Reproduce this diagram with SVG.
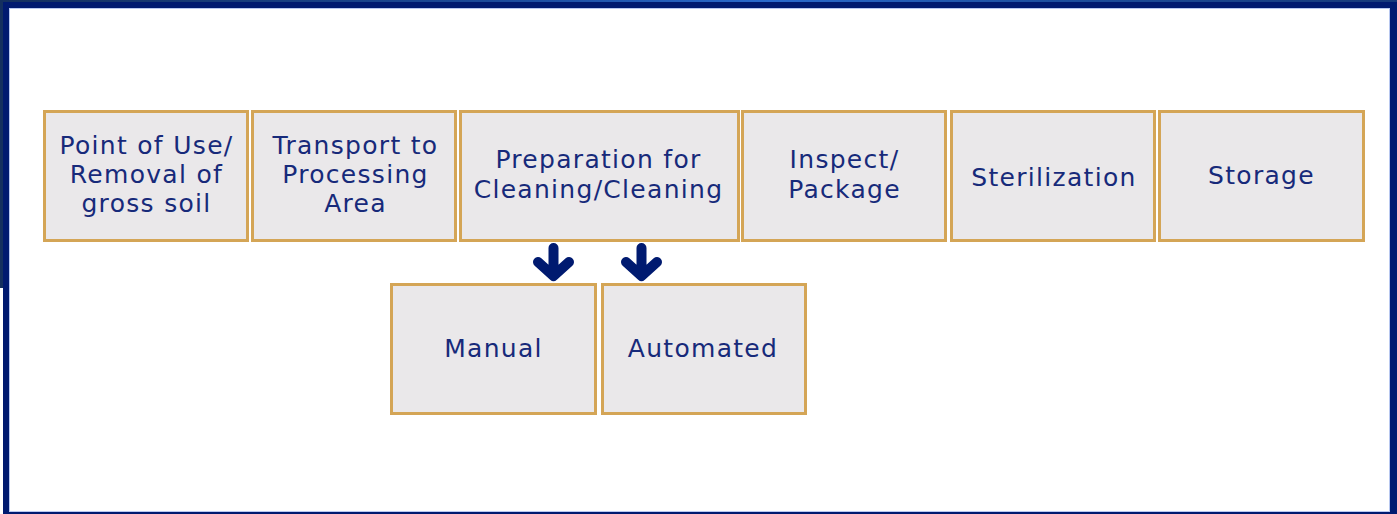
<svg xmlns="http://www.w3.org/2000/svg" width="1397" height="514" viewBox="0 0 1397 514">
  <defs>
    <linearGradient id="bgGrad" x1="0" y1="0" x2="1" y2="0">
      <stop offset="0" stop-color="#14305f"/>
      <stop offset="0.35" stop-color="#1b4a9a"/>
      <stop offset="0.55" stop-color="#2a6acc"/>
      <stop offset="0.75" stop-color="#1d4f9f"/>
      <stop offset="1" stop-color="#16397a"/>
    </linearGradient>
    <style>
      .box { fill: #eae8ea; stroke: #d4a556; stroke-width: 3; }
      .label { font-family: "DejaVu Sans", Verdana, sans-serif; font-size: 25px; letter-spacing: 1.3px; fill: #172a7a; text-anchor: middle; }
      .arrow { fill: none; stroke: #001a70; stroke-width: 10; stroke-linecap: round; stroke-linejoin: round; }
    </style>
  </defs>

  <!-- backdrop and frame -->
  <rect x="0" y="0" width="1397" height="514" fill="#ffffff"/>
  <rect x="0" y="0" width="1397" height="288" fill="url(#bgGrad)"/>
  <rect x="3" y="2" width="1394" height="516" fill="#001a70"/>
  <rect x="9.5" y="8.5" width="1380" height="503" fill="#ffffff" stroke="#b8c8f0" stroke-width="1"/>

  <!-- process steps -->
  <g id="point-of-use">
    <rect class="box" x="44.5" y="111.5" width="203" height="129"/>
    <text class="label" x="146.5" y="153.5">Point of Use/</text>
    <text class="label" x="146.5" y="182.8">Removal of</text>
    <text class="label" x="146.5" y="212">gross soil</text>
  </g>
  <g id="transport">
    <rect class="box" x="252.5" y="111.5" width="203" height="129"/>
    <text class="label" x="355.5" y="153.5">Transport to</text>
    <text class="label" x="355.5" y="182.8">Processing</text>
    <text class="label" x="355.5" y="212">Area</text>
  </g>
  <g id="cleaning">
    <rect class="box" x="460.5" y="111.5" width="278" height="129"/>
    <text class="label" x="598.5" y="168.3">Preparation for</text>
    <text class="label" x="598.5" y="197.5">Cleaning/Cleaning</text>
  </g>
  <g id="inspect">
    <rect class="box" x="742.5" y="111.5" width="203" height="129"/>
    <text class="label" x="844.5" y="168.3">Inspect/</text>
    <text class="label" x="844.5" y="197.5">Package</text>
  </g>
  <g id="sterilization">
    <rect class="box" x="951.5" y="111.5" width="203" height="129"/>
    <text class="label" x="1054" y="186">Sterilization</text>
  </g>
  <g id="storage">
    <rect class="box" x="1159.5" y="111.5" width="204" height="129"/>
    <text class="label" x="1261.5" y="183.5">Storage</text>
  </g>

  <!-- cleaning methods -->
  <g id="manual">
    <rect class="box" x="391.5" y="284.5" width="204" height="129"/>
    <text class="label" x="493.5" y="357.3">Manual</text>
  </g>
  <g id="automated">
    <rect class="box" x="602.5" y="284.5" width="203" height="129"/>
    <text class="label" x="703" y="357.3">Automated</text>
  </g>

  <!-- connectors -->
  <g id="connectors">
    <path class="arrow" d="M553.5 248 V275 M538 262 L553.5 276 L569 262"/>
    <path class="arrow" d="M641.5 248 V275 M626 262 L641.5 276 L657 262"/>
  </g>
</svg>
